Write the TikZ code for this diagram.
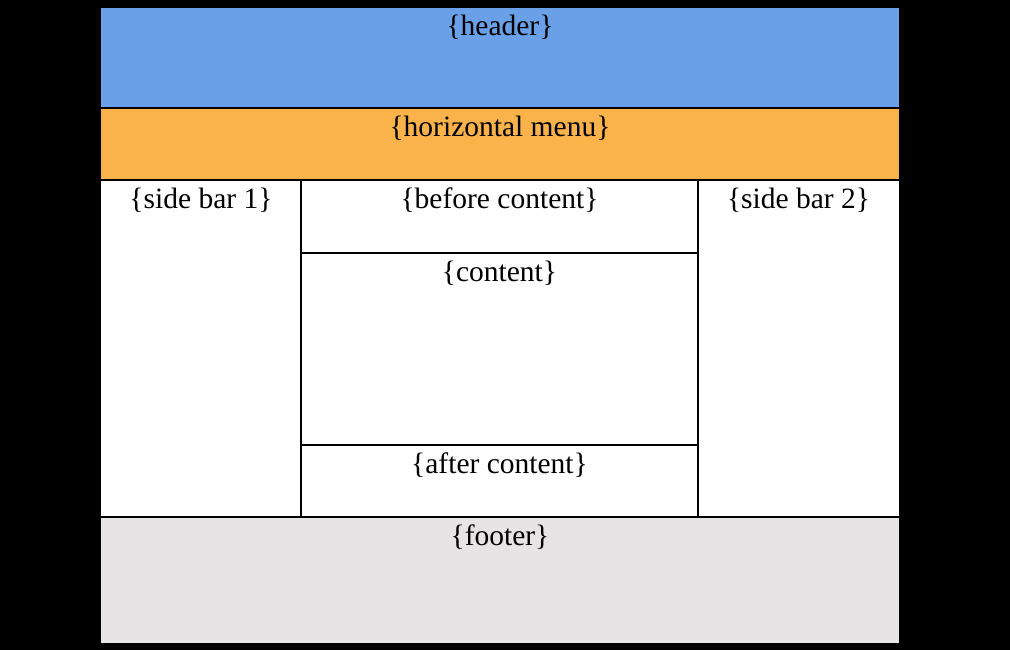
\documentclass[tikz,border=0pt]{standalone}
\usepackage{fontspec}
\setmainfont{Liberation Serif}
\usetikzlibrary{calc}
\definecolor{hdrblue}{RGB}{106,160,232}
\definecolor{menuorange}{RGB}{250,178,75}
\definecolor{footgray}{RGB}{230,228,229}
\begin{document}
\begin{tikzpicture}[x=1pt,y=-1pt,
  region/.style={rectangle,inner sep=0pt,outer sep=0pt,anchor=north west},
  major/.style={draw=black,line width=2pt},
  minor/.style={draw=black,line width=1.4pt},
  lbl/.style={anchor=base,inner sep=0pt,font=\fontsize{29.5}{32}\selectfont}]
\fill[black] (0,0) rectangle (1010,650);
\useasboundingbox (0,0) rectangle (1010,650);
% main regions
\node[region,fill=hdrblue,minimum width=798pt,minimum height=100.5pt] (header) at (101,8) {};
\node[region,fill=menuorange,minimum width=798pt,minimum height=72pt] (menu) at (101,108.5) {};
\node[region,fill=footgray,minimum width=798pt,minimum height=126pt] (footer) at (101,517) {};
\node[region,fill=white,minimum width=200pt,minimum height=336.5pt] (side1) at (101,180.5) {};
\node[region,fill=white,minimum width=201pt,minimum height=336.5pt] (side2) at (698,180.5) {};
\node[region,fill=white,minimum width=397pt,minimum height=72.5pt] (before) at (301,180.5) {};
\node[region,fill=white,minimum width=397pt,minimum height=192pt] (content) at (301,253) {};
\node[region,fill=white,minimum width=397pt,minimum height=72pt] (after) at (301,445) {};
% separators
\draw[minor] (side1.north east) -- (side1.south east);
\draw[minor] (side2.north west) -- (side2.south west);
\draw[minor] (content.north west) -- (content.north east);
\draw[minor] (after.north west) -- (after.north east);
\draw[major] (menu.north west) -- (menu.north east);
\draw[major] (menu.south west) -- (menu.south east);
\draw[major] (footer.north west) -- (footer.north east);
% labels
\node[lbl] (tHeader) at ($(header.north)+(0,28)$) {\{header\}};
\node[lbl] (tMenu) at ($(menu.north)+(0,28)$) {\{horizontal menu\}};
\node[lbl] (tSide1) at ($(side1.north)+(0,28)$) {\{side bar 1\}};
\node[lbl] (tSide2) at ($(side2.north)+(0,28)$) {\{side bar 2\}};
\node[lbl] (tBefore) at ($(before.north)+(0,28)$) {\{before content\}};
\node[lbl] (tContent) at ($(content.north)+(0,28)$) {\{content\}};
\node[lbl] (tAfter) at ($(after.north)+(0,28)$) {\{after content\}};
\node[lbl] (tFooter) at ($(footer.north)+(0,28)$) {\{footer\}};
\end{tikzpicture}
\end{document}
